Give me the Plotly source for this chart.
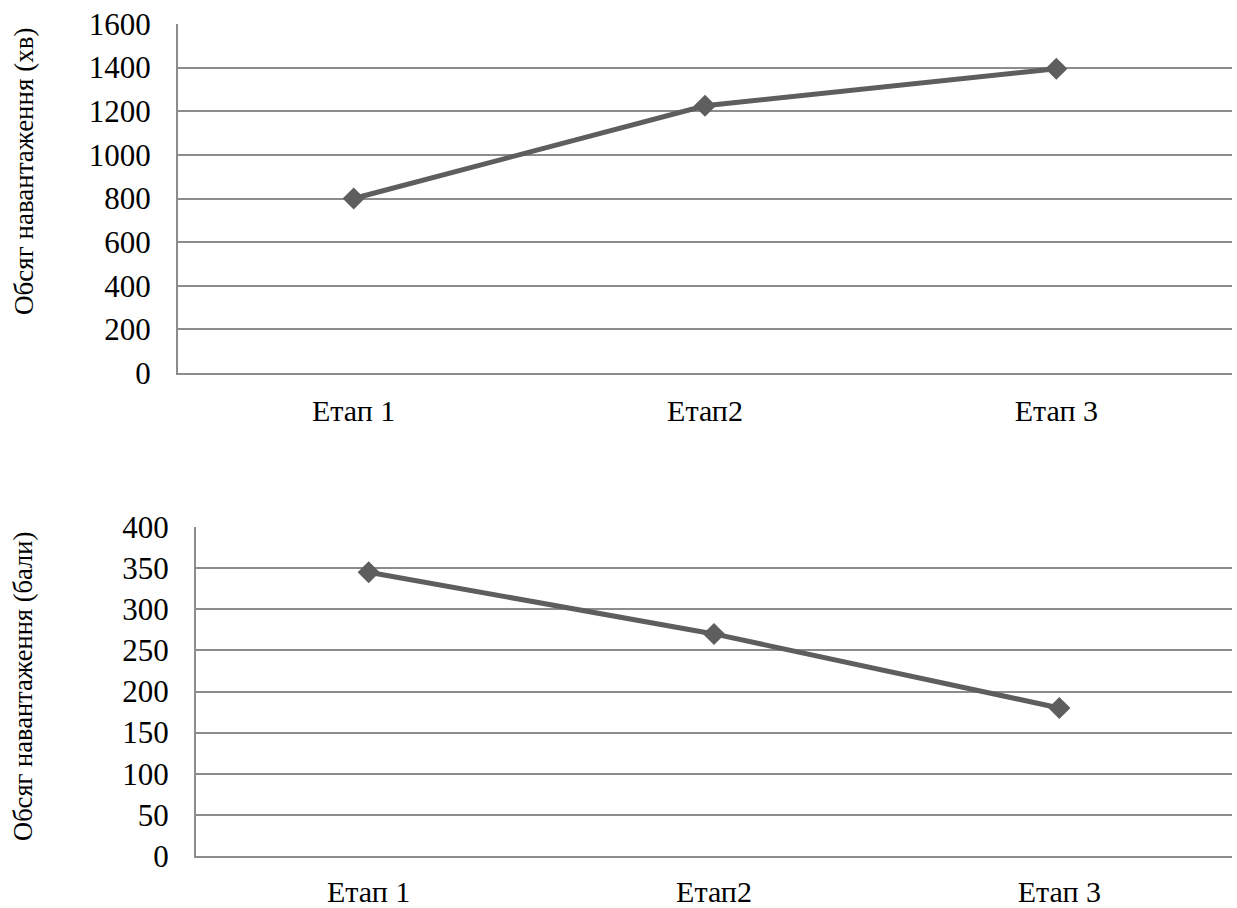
import plotly.graph_objects as go

# Stages and the two load measures
stages_top = ["Етап 1", "Етап2", "Етап 3"]
minutes = [800, 1225, 1395]

stages_bottom = ["Етап 1", "Етап2", "Етап 3"]
points = [345, 270, 180]

title_top = "Обсяг навантаження (хв)"
title_bottom = "Обсяг навантаження (бали)"

W, H = 1237, 908
LINE = "#5e5e5e"
GRID = "#8c8c8c"
FONT = "Liberation Serif"


def px_x(p):
    return p / W


def px_y(p):
    return 1 - p / H


fig = go.Figure()

fig.add_trace(go.Scatter(
    x=list(range(len(stages_top))), y=minutes, mode="lines+markers",
    line=dict(color=LINE, width=5),
    marker=dict(symbol="diamond", size=17, color=LINE),
    xaxis="x", yaxis="y", showlegend=False, hoverinfo="skip",
))
fig.add_trace(go.Scatter(
    x=list(range(len(stages_bottom))), y=points, mode="lines+markers",
    line=dict(color=LINE, width=5),
    marker=dict(symbol="diamond", size=17, color=LINE),
    xaxis="x2", yaxis="y2", showlegend=False, hoverinfo="skip",
))

common_x = dict(
    range=[-0.5, 2.5], showgrid=False, zeroline=False,
    showline=True, linecolor=GRID, linewidth=2,
    ticks="", tickfont=dict(family=FONT, size=30, color="#000000"),
    fixedrange=True, automargin=False,
)
common_y = dict(
    showgrid=True, gridcolor=GRID, gridwidth=2, zeroline=False,
    showline=True, linecolor=GRID, linewidth=2,
    ticks="", tickfont=dict(family=FONT, size=31, color="#000000"),
    ticklabelstandoff=19, fixedrange=True, automargin=False,
)

fig.update_layout(
    width=W, height=H,
    margin=dict(l=0, r=0, t=0, b=0, autoexpand=False),
    paper_bgcolor="white", plot_bgcolor="white",
    xaxis=dict(
        **common_x, domain=[px_x(178), px_x(1232)], anchor="y",
        ticklabelstandoff=10,
        tickmode="array", tickvals=list(range(len(stages_top))), ticktext=stages_top,
    ),
    yaxis=dict(
        **common_y, domain=[px_y(373), px_y(24)], anchor="x",
        range=[0, 1600], dtick=200,
    ),
    xaxis2=dict(
        **common_x, domain=[px_x(196), px_x(1232)], anchor="y2",
        ticklabelstandoff=8,
        tickmode="array", tickvals=list(range(len(stages_bottom))), ticktext=stages_bottom,
    ),
    yaxis2=dict(
        **common_y, domain=[px_y(856), px_y(527)], anchor="x2",
        range=[0, 400], dtick=50,
    ),
    annotations=[
        dict(text=title_top, x=px_x(24), y=px_y(172), xref="paper", yref="paper",
             textangle=-90, showarrow=False, xanchor="center", yanchor="middle",
             font=dict(family=FONT, size=27, color="#000000")),
        dict(text=title_bottom, x=px_x(23), y=px_y(687), xref="paper", yref="paper",
             textangle=-90, showarrow=False, xanchor="center", yanchor="middle",
             font=dict(family=FONT, size=26.5, color="#000000")),
    ],
)

fig.write_html("out.html", config={"displayModeBar": False})
